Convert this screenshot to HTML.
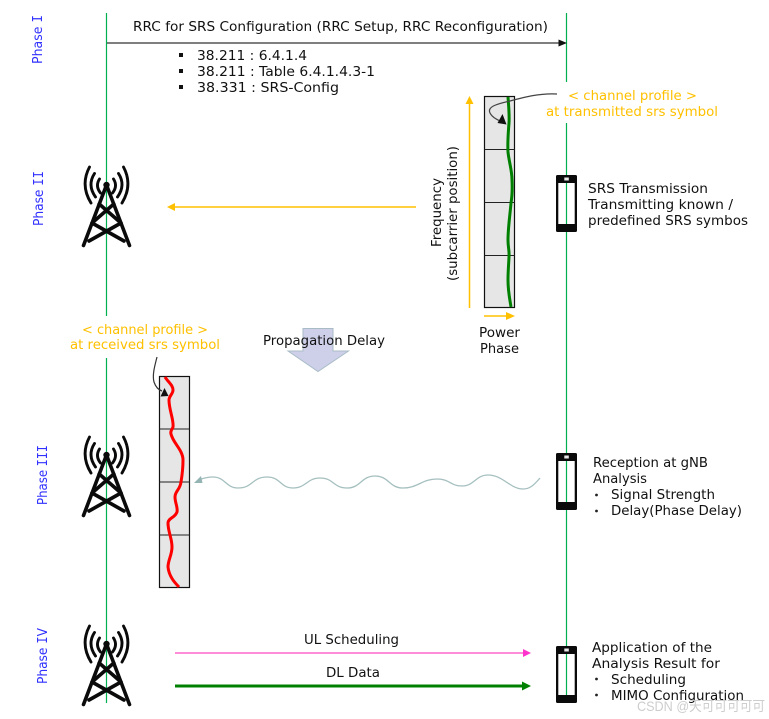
<!DOCTYPE html>
<html>
<head>
<meta charset="utf-8">
<style>
html,body{margin:0;padding:0;background:#fff;width:769px;height:719px;overflow:hidden}
svg{display:block}
text{font-family:"DejaVu Sans","Liberation Sans","Noto Sans CJK SC",sans-serif;font-size:13px;fill:#111}
.y{fill:#ffc000}
.p{fill:#3030ff;font-size:13px}
.m{font-family:"DejaVu Sans Mono","Liberation Mono",monospace}
</style>
</head>
<body>
<svg width="769" height="719" viewBox="0 0 769 719" xmlns="http://www.w3.org/2000/svg">
<defs>
<g id="tower" fill="none" stroke="#0a0a0a" stroke-linecap="round" stroke-linejoin="round">
  <g stroke-width="3.600">
    <path d="M106.500 185L83.500 245.500M106.500 185L129.500 245.500"/>
    <path d="M99.200 204L121 223L89 241M113.800 204L92 223L124 241"/>
  </g>
  <circle cx="106.500" cy="185" r="3.200" fill="#0a0a0a" stroke="none"/>
  <g stroke-width="2.900">
    <path d="M89.500 167Q80 185 91 203M123.500 167Q133 185 122 203"/>
    <path d="M94.500 173.500Q87 185 95.500 197M118.500 173.500Q126 185 117.500 197"/>
    <path d="M99.500 179Q95 186 100.500 193M113.500 179Q118 186 112.500 193"/>
  </g>
</g>
<g id="phone">
  <rect x="556" y="175" width="21" height="57" rx="1.500" fill="#0a0a0a"/>
  <rect x="558.300" y="183" width="16.400" height="41" fill="#fff"/>
  <path d="M566.500 183V224" stroke="#00b050" stroke-width="1.200"/>
  <rect x="564.300" y="177.500" width="4.500" height="3" fill="#e8e8e8"/>
</g>
</defs>

<!-- lifelines -->
<path d="M106.500 13V316M106.500 358V703" stroke="#00b050" stroke-width="1.200" fill="none"/>
<path d="M566.500 13V82M566.500 123V175M566.500 232V453M566.500 510V646" stroke="#00b050" stroke-width="1.200" fill="none"/>

<!-- phases -->
<text class="p" transform="translate(42 64) rotate(-90)" textLength="49" lengthAdjust="spacingAndGlyphs">Phase <tspan class="m">I</tspan></text>
<text class="p" transform="translate(43 226) rotate(-90)" textLength="55" lengthAdjust="spacingAndGlyphs">Phase <tspan class="m">II</tspan></text>
<text class="p" transform="translate(47 505) rotate(-90)" textLength="60" lengthAdjust="spacingAndGlyphs">Phase <tspan class="m">III</tspan></text>
<text class="p" transform="translate(47 684) rotate(-90)" textLength="56" lengthAdjust="spacingAndGlyphs">Phase <tspan class="m">I</tspan>V</text>

<!-- Phase I -->
<text x="133" y="31" textLength="415" lengthAdjust="spacingAndGlyphs">RRC for SRS Configuration (RRC Setup, RRC Reconfiguration)</text>
<path d="M107 43H559" stroke="#333" stroke-width="1.300"/>
<path d="M567 43L558.500 39.500V46.500Z" fill="#111"/>
<rect x="179" y="53" width="4" height="4" fill="#111"/>
<rect x="179" y="69" width="4" height="4" fill="#111"/>
<rect x="179" y="85" width="4" height="4" fill="#111"/>
<text x="197" y="60" textLength="110" lengthAdjust="spacingAndGlyphs">38.211 : 6.4.1.4</text>
<text x="197" y="76" textLength="178" lengthAdjust="spacingAndGlyphs">38.211 : Table 6.4.1.4.3-1</text>
<text x="197" y="92" textLength="142" lengthAdjust="spacingAndGlyphs">38.331 : SRS-Config</text>

<!-- Phase II -->
<use href="#tower"/>
<path d="M416 207H174" stroke="#ffc000" stroke-width="1.500"/>
<path d="M167 207L175 203V211Z" fill="#ffc000"/>

<path d="M469.500 308V103" stroke="#ffc000" stroke-width="1.500"/>
<path d="M469.500 96L465.500 104H473.500Z" fill="#ffc000"/>
<text transform="translate(441 247) rotate(-90)" textLength="69" lengthAdjust="spacingAndGlyphs">Frequency</text>
<text transform="translate(457 281) rotate(-90)" textLength="135" lengthAdjust="spacingAndGlyphs">(subcarrier position)</text>

<rect x="484.500" y="96.500" width="30" height="211" fill="#e6e6e6" stroke="#111" stroke-width="1.200"/>
<path d="M484.500 149.500H514.500M484.500 202.500H514.500M484.500 255.500H514.500" stroke="#222" stroke-width="1.100"/>
<path d="M508 97C509 110 509.500 115 509 123C508 135 507.500 143 508 152C509 162 512 170 512 180C512.500 190 512 197 511 203C510 215 508 228 508 240C508 248 509.500 250 509 257C508.500 267 508 272 508 280C508 292 510 300 511 307" fill="none" stroke="#008000" stroke-width="3"/>
<path d="M557 94C540 93 525 97 510 101C496 104 487 107 490 113C492 117 496 119 500 121" fill="none" stroke="#444" stroke-width="1.200"/>
<path d="M506.500 124.500L497.500 123L502.500 114Z" fill="#111"/>
<path d="M484 316H507" stroke="#ffc000" stroke-width="1.500"/>
<path d="M515 316L506 312V320Z" fill="#ffc000"/>
<text x="479" y="337" textLength="41" lengthAdjust="spacingAndGlyphs">Power</text>
<text x="480" y="353" textLength="39" lengthAdjust="spacingAndGlyphs">Phase</text>

<text class="y" x="568" y="100" textLength="129" lengthAdjust="spacingAndGlyphs">&lt; channel profile &gt;</text>
<text class="y" x="546" y="116" textLength="172" lengthAdjust="spacingAndGlyphs">at transmitted srs symbol</text>

<use href="#phone"/>
<text x="588" y="193" textLength="120" lengthAdjust="spacingAndGlyphs">SRS Transmission</text>
<text x="588" y="209" textLength="145" lengthAdjust="spacingAndGlyphs">Transmitting known /</text>
<text x="588" y="225" textLength="160" lengthAdjust="spacingAndGlyphs">predefined SRS symbos</text>

<!-- Propagation -->
<path d="M303 328.500H333V351H348.500L318 371.500L288 351H303Z" fill="#ced0ea" stroke="#a9bcc6" stroke-width="1"/>
<text x="263" y="345" textLength="122" lengthAdjust="spacingAndGlyphs">Propagation Delay</text>

<text class="y" x="82" y="334" textLength="126" lengthAdjust="spacingAndGlyphs">&lt; channel profile &gt;</text>
<text class="y" x="70" y="349" textLength="150" lengthAdjust="spacingAndGlyphs">at received srs symbol</text>

<!-- Phase III -->
<use href="#tower" y="270"/>
<rect x="159.500" y="376.500" width="30" height="211" fill="#e6e6e6" stroke="#111" stroke-width="1.200"/>
<path d="M159.500 429H189.500M159.500 482H189.500M159.500 535H189.500" stroke="#222" stroke-width="1.100"/>
<path d="M165 377C168 382 173 385 173 390C173 394 169 396 169 400C169 410 174 420 173 427C172 430 170 431 171 434C173 443 183 450 183 460C183 468 182 476 181 482C180 490 175 491 175 497C175 503 178 507 177 512C175 518 168 518 168 523C168 532 172 538 172 547C172 555 168 560 168 567C169 576 174 582 179 587" fill="none" stroke="#ff0000" stroke-width="3"/>
<path d="M157 357C155 365 152 375 154 382C156 388 159 390 162 391" fill="none" stroke="#333" stroke-width="1.200"/>
<path d="M168.500 396L160.500 396.500L164.500 388Z" fill="#111"/>

<path d="M540 478C534 485 530 489 523 489C510 489 503 475 488 475C476 475 474 486 462 486C450 486 450 479 437 479C422 479 418 488 403 488C389 488 389 476 375 476C361 476 361 488 347 488C333 488 334 478 320 478C307 478 306 488 293 488C280 488 281 477 267 477C252 477 253 488 238 488C226 488 225 477 213 477C208 477 204 478 200 479.500" fill="none" stroke="#a5bfbf" stroke-width="1.300"/>
<path d="M194 483L201 476L202.500 483Z" fill="#94b3b3"/>

<use href="#phone" y="278"/>
<text x="593" y="467" textLength="115" lengthAdjust="spacingAndGlyphs">Reception at gNB</text>
<text x="593" y="483" textLength="54" lengthAdjust="spacingAndGlyphs">Analysis</text>
<circle cx="596.500" cy="495" r="1.400" fill="#222"/>
<text x="611" y="499" textLength="104" lengthAdjust="spacingAndGlyphs">Signal Strength</text>
<circle cx="596.500" cy="511" r="1.400" fill="#222"/>
<text x="611" y="515" textLength="131" lengthAdjust="spacingAndGlyphs">Delay(Phase Delay)</text>

<!-- Phase IV -->
<use href="#tower" y="459"/>
<text x="304" y="644" textLength="95" lengthAdjust="spacingAndGlyphs">UL Scheduling</text>
<path d="M175 653H524" stroke="#ff66cc" stroke-width="1.500"/>
<path d="M531 653L523 649V657Z" fill="#ff33cc"/>
<text x="326" y="677" textLength="54" lengthAdjust="spacingAndGlyphs">DL Data</text>
<path d="M175 686H523" stroke="#008000" stroke-width="3"/>
<path d="M531 686L522 681.500V690.500Z" fill="#008000"/>

<use href="#phone" y="471"/>
<text x="592" y="652" textLength="120" lengthAdjust="spacingAndGlyphs">Application of the</text>
<text x="592" y="668" textLength="128" lengthAdjust="spacingAndGlyphs">Analysis Result for</text>
<circle cx="596.500" cy="679" r="1.400" fill="#222"/>
<text x="611" y="684" textLength="75" lengthAdjust="spacingAndGlyphs">Scheduling</text>
<circle cx="596.500" cy="695" r="1.400" fill="#222"/>
<text x="611" y="700" textLength="133" lengthAdjust="spacingAndGlyphs">MIMO Configuration</text>

<!-- watermark -->
<text x="637" y="711" textLength="128" lengthAdjust="spacingAndGlyphs" style="fill:#c8c8c8;font-size:14px;font-family:'Liberation Sans','Noto Sans CJK SC',sans-serif;opacity:.9">CSDN @天可可可可可</text>
</svg>
</body>
</html>
